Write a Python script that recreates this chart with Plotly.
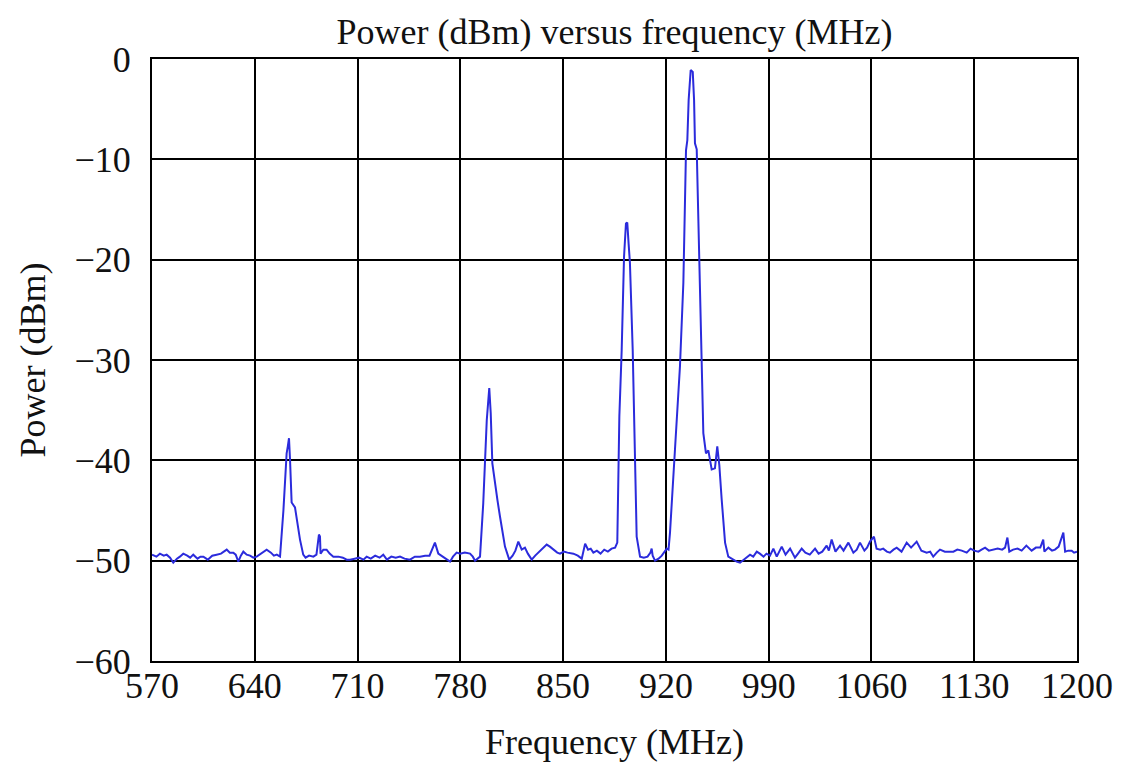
import plotly.graph_objects as go

# Frequency (MHz) and power (dBm)
freq_mhz = [
    570, 573, 575.4, 578, 580, 582.3, 584.5, 587, 589, 591.3, 594, 596, 598.1, 601, 603, 605,
    608, 611, 614, 617, 620.9, 623, 625.4, 627, 628.8, 630.5, 632.2, 634.5, 636.8, 639, 641.3,
    644.5, 648.1, 651, 653, 655, 657.2,
    659.5, 661.7, 662.5, 663.3, 664, 665.1, 667.4, 669, 670.8, 673, 674.6, 677, 679.9, 682,
    683.7, 684.4, 684.8, 686.7, 688.9, 691, 693.5, 697, 700, 702.6, 704.9, 708, 711, 714,
    716.2, 719, 722, 725, 727.5, 730, 733, 736, 738.9, 742, 745.7, 749, 752.5, 756, 759,
    762.7, 765, 768, 770.7, 773, 775, 777.5, 780, 783, 786.6, 788.5, 790, 793.4,
    795.6, 798, 799.7, 800.7, 801.8, 803.6, 805.3, 807, 808.7, 810.4, 813.3, 815.6, 817.5,
    819.5, 821.8, 824, 826, 828.6, 831, 833.2, 836, 838.8, 841, 843.5, 846, 847.9, 850.5,
    853, 857, 860, 862.7, 865, 867, 868.8, 870.6, 873, 875.5, 878, 880.5, 883, 885.4,
    886.9, 888.3, 889.9, 891.5, 892.8, 893.7, 894.6, 895.5, 897.4, 899, 900.1, 902.4, 905,
    907.5, 909.5, 910.3, 911, 912.6, 915, 917.2, 919, 920.6, 921.8,
    922.8, 926.2, 929.6, 931.9, 933.7, 934.6, 935.5, 936.9, 938.3, 939.2, 939.8, 941, 942.5,
    943.9, 945.5, 947.3, 948.9, 951.2, 953.4, 955, 956.4, 958, 960.3, 962.5, 965.9, 968.2,
    970.5, 973, 975, 977.3, 979.5, 981.9, 984, 986.5, 988.5, 990.9, 993.2, 995.5, 998.9,
    1001.5, 1004.6, 1007.9, 1010, 1012.5, 1015, 1018, 1021.6, 1024, 1026.5, 1029.5, 1031,
    1032.9, 1035.5, 1038.6, 1041, 1044.3, 1047.7, 1050, 1052.2, 1055.2, 1057, 1059, 1061.7,
    1063.5, 1066, 1068, 1070.5, 1072.6, 1075, 1077.2, 1080.5, 1084, 1087, 1090.8, 1094,
    1097.6, 1100, 1102.1, 1104.5, 1106.7, 1110, 1113, 1115.8, 1118.5, 1121.5, 1124.9,
    1127.5, 1130, 1132.8, 1135, 1137.4, 1140, 1143, 1146, 1149, 1151, 1152.6, 1153.9,
    1156.5, 1159.5, 1162.3, 1165.5, 1169.1, 1172, 1175, 1177, 1177.8, 1180.5, 1183, 1185,
    1187.5, 1190.7, 1191.9, 1194, 1196.4, 1198, 1200,
]
power_dbm = [
    -49.4, -49.6, -49.3, -49.5, -49.4, -49.7, -50.2, -49.8, -49.6, -49.3, -49.5, -49.7, -49.4, -49.8, -49.6, -49.6,
    -49.9, -49.5, -49.4, -49.3, -48.9, -49.2, -49.2, -49.4, -50.1, -49.5, -49.1, -49.4, -49.5, -49.7, -49.6,
    -49.3, -48.9, -49.2, -49.5, -49.4, -49.6,
    -45.0, -39.3, -38.6, -37.8, -39.9, -44.2, -44.7, -46.2, -47.9, -49.4, -49.7, -49.5, -49.6, -49.4,
    -47.4, -47.6, -49.3, -48.9, -48.9, -49.3, -49.6, -49.6, -49.7, -49.9, -49.9, -49.8, -49.7, -49.9,
    -49.6, -49.8, -49.5, -49.7, -49.4, -49.9, -49.6, -49.7, -49.6, -49.8, -49.9, -49.6, -49.6, -49.5, -49.5,
    -48.2, -49.3, -49.6, -49.9, -50.1, -49.6, -49.2, -49.3, -49.2, -49.3, -49.6, -50.0, -49.6,
    -44.3, -36.0, -32.8, -35.3, -40.3, -42.4, -44.0, -45.6, -47.1, -48.6, -49.9, -49.5, -49.0,
    -48.1, -48.9, -48.7, -49.3, -49.9, -49.5, -49.2, -48.8, -48.4, -48.6, -48.9, -49.2, -49.3, -49.1,
    -49.2, -49.3, -49.5, -49.8, -48.3, -48.9, -48.8, -49.2, -49.0, -49.3, -48.9, -49.1, -48.8, -48.7,
    -48.2, -35.6, -29.0, -19.7, -16.4, -16.3, -18.4, -20.3, -29.0, -38.9, -47.6, -49.6, -49.7,
    -49.6, -49.2, -48.8, -49.5, -50.0, -49.8, -49.5, -49.1, -48.8, -48.9,
    -47.2, -38.9, -30.6, -22.3, -9.1, -8.1, -4.1, -1.1, -1.3, -4.1, -8.4, -9.0, -19.0,
    -29.0, -37.3, -39.3, -39.0, -40.9, -40.8, -38.6, -40.5, -43.9, -48.2, -49.6, -49.9, -50.1,
    -50.2, -49.9, -49.7, -49.4, -49.6, -49.1, -49.3, -49.6, -49.3, -49.5, -48.8, -49.6, -48.6,
    -49.4, -48.8, -49.7, -49.3, -48.8, -49.2, -49.4, -48.8, -49.3, -49.1, -48.5, -49.0,
    -47.9, -49.1, -48.5, -49.0, -48.2, -49.2, -48.9, -48.2, -49.0, -48.7, -48.1, -47.6,
    -48.8, -48.9, -48.8, -49.1, -49.2, -48.9, -48.7, -49.1, -48.2, -48.7, -48.1, -49.0,
    -49.2, -49.1, -49.6, -49.2, -48.9, -49.1, -49.1, -49.1, -48.9, -49.0, -49.2,
    -48.8, -49.0, -49.1, -48.9, -48.7, -49.0, -48.9, -48.8, -48.9, -48.7, -47.7, -49.1,
    -48.9, -48.8, -49.0, -48.5, -49.0, -48.7, -48.7, -47.9, -49.1, -48.7, -49.0, -48.9,
    -48.6, -47.2, -49.1, -49.0, -49.0, -49.2, -49.1,
]

x_ticks = [570, 640, 710, 780, 850, 920, 990, 1060, 1130, 1200]
y_ticks = [0, -10, -20, -30, -40, -50, -60]

FONT = "Liberation Serif, Times New Roman, serif"
FS = 36

fig = go.Figure()
fig.add_trace(go.Scatter(
    x=freq_mhz, y=power_dbm, mode="lines",
    line=dict(color="#2b2bdc", width=2),
    showlegend=False, hoverinfo="x+y",
))

fig.update_layout(
    width=1121, height=770,
    margin=dict(l=144, r=52, t=51, b=117, autoexpand=False),
    paper_bgcolor="white", plot_bgcolor="white",
    font=dict(family=FONT, size=FS, color="#111111"),
    title=dict(text="Power (dBm) versus frequency (MHz)", x=0.5, xref="paper",
               y=1 - 23 / 770, yref="container", yanchor="middle",
               font=dict(family=FONT, size=FS, color="#111111")),
)
fig.update_xaxes(
    range=[570, 1200], tickvals=x_ticks, ticktext=[str(v) for v in x_ticks],
    showgrid=True, gridcolor="black", gridwidth=1.6,
    showline=True, linecolor="black", linewidth=2, mirror=True,
    zeroline=False, ticks="", ticklabelstandoff=-8,
    title=dict(text="Frequency (MHz)", standoff=24, font=dict(family=FONT, size=FS)),
)
fig.update_yaxes(
    range=[-60, 0], tickvals=y_ticks, ticktext=[("\u2212" + str(-v)) if v < 0 else "0" for v in y_ticks],
    showgrid=True, gridcolor="black", gridwidth=1.6,
    showline=True, linecolor="black", linewidth=2, mirror=True,
    zeroline=False, ticks="", ticklabelstandoff=12,
    title=dict(text="Power (dBm)", standoff=18, font=dict(family=FONT, size=FS)),
)

fig.write_html("out.html")
